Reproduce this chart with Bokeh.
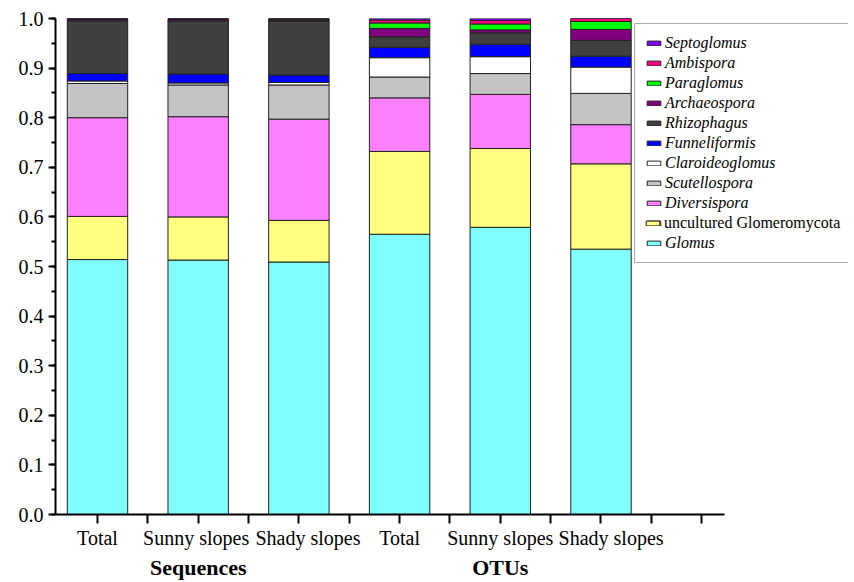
from bokeh.plotting import figure
from bokeh.models import (ColumnDataSource, Range1d, FixedTicker, LinearAxis,
                          Legend, LegendItem, PrintfTickFormatter)
from bokeh.embed import file_html
from bokeh.resources import INLINE

# ---------------- data ----------------
bar_positions = [1, 2, 3, 4, 5, 6]
tick_labels = ["Total", "Sunny slopes", "Shady slopes", "Total", "Sunny slopes", "Shady slopes"]
group_positions = [2, 5]
group_labels = ["Sequences", "OTUs"]

genera = ["Glomus", "uncultured Glomeromycota", "Diversispora", "Scutellospora",
          "Claroideoglomus", "Funneliformis", "Rhizophagus", "Archaeospora",
          "Paraglomus", "Ambispora", "Septoglomus"]

glomus          = [0.514, 0.513, 0.509, 0.565, 0.579, 0.535]
uncultured      = [0.087, 0.087, 0.084, 0.167, 0.159, 0.172]
diversispora    = [0.199, 0.202, 0.204, 0.108, 0.109, 0.079]
scutellospora   = [0.069, 0.064, 0.069, 0.042, 0.042, 0.063]
claroideoglomus = [0.005, 0.004, 0.005, 0.039, 0.034, 0.053]
funneliformis   = [0.015, 0.018, 0.015, 0.021, 0.025, 0.022]
rhizophagus     = [0.106, 0.107, 0.109, 0.021, 0.023, 0.032]
archaeospora    = [0.003, 0.003, 0.002, 0.017, 0.006, 0.022]
paraglomus      = [0.001, 0.001, 0.001, 0.011, 0.012, 0.016]
ambispora       = [0.001, 0.001, 0.002, 0.006, 0.007, 0.006]
septoglomus     = [0.000, 0.000, 0.000, 0.003, 0.004, 0.000]

colors = ["#80FFFF", "#FFFF80", "#FF80FF", "#C4C4C4", "#FFFFFF", "#0000FF",
          "#404040", "#800080", "#00FF00", "#FF0080", "#8000FF"]

series = [glomus, uncultured, diversispora, scutellospora, claroideoglomus,
          funneliformis, rhizophagus, archaeospora, paraglomus, ambispora, septoglomus]
keys = ["g%d" % i for i in range(len(genera))]

data = {"x": bar_positions}
for k, s in zip(keys, series):
    data[k] = s
source = ColumnDataSource(data)

# ---------------- layout ----------------
FONT = "Liberation Serif"
X_START, X_AXIS_END, X_FRAME_END = 0.583, 7.23, 8.458
label_shift = [0.0, -0.02, 0.09, 0.0, 0.0, 0.10]   # small nudges of tick-label text

p = figure(width=852, height=582, x_range=Range1d(X_START, X_FRAME_END), y_range=Range1d(0, 1.0),
           output_backend="svg", toolbar_location=None,
           min_border_left=55, min_border_top=18, min_border_bottom=68, min_border_right=4)
p.outline_line_color = None
p.xgrid.visible = False
p.ygrid.visible = False
p.background_fill_color = "white"

renderers = p.vbar_stack(keys, x="x", width=0.6, source=source, color=colors,
                         line_color="#222222", line_width=1)
for r, c in zip(renderers, colors):
    r.glyph.fill_color = c
    r.glyph.line_color = "#222222"

# y axis
yax = p.yaxis[0]
yax.ticker = FixedTicker(ticks=[i / 10 for i in range(11)],
                         minor_ticks=[i / 20 for i in range(21)])
yax.formatter = PrintfTickFormatter(format="%.1f")
yax.axis_line_width = 2
yax.major_tick_line_width = 2
yax.minor_tick_line_width = 2
yax.major_tick_out = 7
yax.major_tick_in = 0
yax.minor_tick_out = 4
yax.minor_tick_in = 0
yax.major_label_text_font = FONT
yax.major_label_text_font_size = "20px"
yax.major_label_text_color = "black"
yax.major_label_standoff = 5

# x axis: line and tick marks only
xax = p.xaxis[0]
xax.bounds = (X_START, X_AXIS_END)
xt = [1 + i * 0.5 for i in range(13)]
xax.ticker = FixedTicker(ticks=xt, minor_ticks=[])
xax.major_label_overrides = {t: "" for t in xt}
xax.major_label_text_font_size = "0px"
xax.major_label_standoff = 0
xax.axis_line_width = 2
xax.major_tick_line_width = 2
xax.major_tick_out = 9
xax.major_tick_in = 0
xax.minor_tick_line_color = None

# tick-label axis
label_pos = [b + s for b, s in zip(bar_positions, label_shift)]
lax = LinearAxis(ticker=FixedTicker(ticks=label_pos, minor_ticks=[]),
                 major_label_overrides={float(pos): lab for pos, lab in zip(label_pos, tick_labels)},
                 axis_line_color=None, major_tick_line_color=None, minor_tick_line_color=None,
                 major_label_text_font=FONT, major_label_text_font_size="20px",
                 major_label_text_color="black", major_label_standoff=-3)
p.add_layout(lax, "below")

# group axis
gax = LinearAxis(ticker=FixedTicker(ticks=group_positions, minor_ticks=[]),
                 major_label_overrides={float(pos): lab for pos, lab in zip(group_positions, group_labels)},
                 axis_line_color=None, major_tick_line_color=None, minor_tick_line_color=None,
                 major_label_text_font=FONT, major_label_text_font_size="22px",
                 major_label_text_font_style="bold", major_label_text_color="black",
                 major_label_standoff=-3)
p.add_layout(gax, "below")

# legend
items_a = []
for name, r in reversed(list(zip(genera, renderers))):
    lab = " " if name == "uncultured Glomeromycota" else name
    items_a.append(LegendItem(label=lab, renderers=[r]))

common = dict(spacing=2, label_height=18, glyph_width=17, glyph_height=6,
              label_standoff=3, label_text_font=FONT, label_text_font_size="16px",
              label_text_color="black")

legend_a = Legend(items=items_a, location=(579, 251), padding=10,
                  label_width=173, label_text_font_style="italic",
                  border_line_color="#555555", border_line_width=1,
                  background_fill_color="white", background_fill_alpha=1.0, **common)
p.add_layout(legend_a, "center")

legend_b = Legend(items=[LegendItem(label=genera[1], renderers=[renderers[1]])],
                  location=(589, 282), padding=0, label_text_font_style="normal",
                  border_line_color=None, background_fill_alpha=0.0, **common)
p.add_layout(legend_b, "center")

open("out.html", "w").write(file_html(p, INLINE))
